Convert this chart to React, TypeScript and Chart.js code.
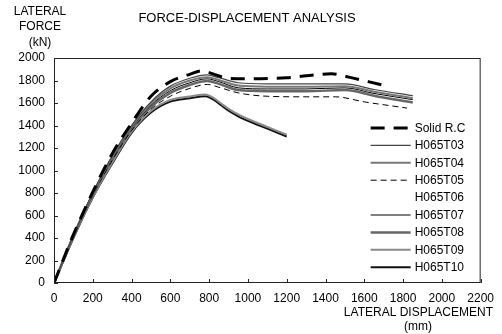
import React, { useEffect, useRef } from "react";
import { Chart, registerables } from "chart.js";

Chart.register(...registerables);

const labels = ["Solid R.C", "H065T03", "H065T04", "H065T05", "H065T06", "H065T07", "H065T08", "H065T09", "H065T10"];

const rcDisp = [0, 100, 200, 300, 400, 500, 600, 700, 760, 800, 900, 1000, 1200, 1350, 1430, 1520, 1620, 1720];
const rcForce = [0, 430, 810, 1150, 1420, 1660, 1790, 1855, 1885, 1870, 1820, 1815, 1825, 1850, 1860, 1830, 1790, 1750];

const groupDisp = [0, 100, 200, 300, 400, 500, 600, 700, 790, 850, 950, 1100, 1300, 1500, 1650, 1850];
const t03Force = [0, 425, 800, 1130, 1400, 1610, 1750, 1820, 1850, 1825, 1780, 1770, 1770, 1770, 1720, 1665];
const t04Force = [0, 422, 795, 1120, 1390, 1595, 1730, 1800, 1830, 1805, 1755, 1745, 1745, 1750, 1700, 1645];
const t06Force = [0, 421, 792, 1115, 1385, 1588, 1720, 1790, 1822, 1798, 1745, 1735, 1735, 1742, 1692, 1638];
const t07Force = [0, 420, 790, 1110, 1380, 1580, 1710, 1780, 1815, 1790, 1735, 1725, 1725, 1735, 1685, 1630];
const t08Force = [0, 418, 785, 1100, 1370, 1565, 1690, 1760, 1795, 1770, 1715, 1705, 1705, 1715, 1665, 1605];

const t05Disp = [0, 100, 200, 300, 400, 500, 600, 700, 790, 850, 950, 1100, 1300, 1450, 1600, 1820];
const t05Force = [0, 415, 780, 1090, 1355, 1545, 1660, 1730, 1765, 1740, 1690, 1660, 1655, 1655, 1610, 1555];

const lowDisp = [0, 100, 200, 300, 400, 500, 600, 700, 780, 820, 860, 900, 950, 1000, 1100, 1200];
const t09Force = [0, 405, 765, 1070, 1345, 1530, 1628, 1658, 1676, 1648, 1598, 1548, 1498, 1458, 1388, 1318];
const t10Force = [0, 400, 760, 1060, 1335, 1515, 1612, 1642, 1660, 1632, 1582, 1532, 1482, 1442, 1372, 1302];

const xTicks = [0, 200, 400, 600, 800, 1000, 1200, 1400, 1600, 1800, 2000, 2200];
const yTicks = [0, 200, 400, 600, 800, 1000, 1200, 1400, 1600, 1800, 2000];

const FONT = "'Liberation Sans', Arial, sans-serif";

function pts(xs: number[], ys: number[]) {
  return xs.map((x, i) => ({ x, y: ys[i] }));
}

const styles = [
  { color: "#000", width: 3, dash: [14, 9] },
  { color: "#444", width: 1.2, dash: [] },
  { color: "#777", width: 2, dash: [] },
  { color: "#000", width: 1, dash: [6, 4] },
  { color: "rgba(0,0,0,0)", width: 1, dash: [] },
  { color: "#000", width: 1, dash: [] },
  { color: "#666", width: 2.5, dash: [] },
  { color: "#8a8a8a", width: 2, dash: [] },
  { color: "#111", width: 2, dash: [] },
];

const seriesData = [
  pts(rcDisp, rcForce),
  pts(groupDisp, t03Force),
  pts(groupDisp, t04Force),
  pts(t05Disp, t05Force),
  pts(groupDisp, t06Force),
  pts(groupDisp, t07Force),
  pts(groupDisp, t08Force),
  pts(lowDisp, t09Force),
  pts(lowDisp, t10Force),
];

const decorPlugin = {
  id: "decor",
  afterDatasetsDraw(chart: any) {
    const ctx = chart.ctx;
    const a = chart.chartArea;
    const xs = chart.scales.x;
    const ys = chart.scales.y;
    ctx.save();
    ctx.strokeStyle = "#222";
    ctx.lineWidth = 1;
    ctx.setLineDash([]);
    ctx.strokeRect(a.left + 0.5, a.top + 0.5, a.right - a.left - 1, a.bottom - a.top - 1);
    ctx.beginPath();
    xTicks.forEach((v) => {
      const px = Math.round(xs.getPixelForValue(v)) + 0.5;
      ctx.moveTo(px, a.bottom);
      ctx.lineTo(px, a.bottom - 4);
    });
    yTicks.forEach((v) => {
      const py = Math.round(ys.getPixelForValue(v)) + 0.5;
      ctx.moveTo(a.left, py);
      ctx.lineTo(a.left + 4, py);
    });
    ctx.stroke();

    ctx.font = "12px " + FONT;
    ctx.textBaseline = "middle";
    ctx.textAlign = "left";
    ctx.fillStyle = "#000";
    chart.data.datasets.forEach((ds: any, i: number) => {
      const y = a.top + 70 + i * 17.4;
      const x0 = a.right - 110;
      ctx.save();
      ctx.strokeStyle = ds.borderColor;
      ctx.lineWidth = ds.borderWidth;
      ctx.setLineDash(ds.borderDash || []);
      ctx.beginPath();
      ctx.moveTo(x0, y);
      ctx.lineTo(x0 + 40, y);
      ctx.stroke();
      ctx.restore();
      ctx.fillText(ds.label, x0 + 44, y + 0.5);
    });

    ctx.textAlign = "center";
    ctx.fillText("LATERAL", 40, 12);
    ctx.fillText("FORCE", 40, 27);
    ctx.fillText("(kN)", 40, 43);
    ctx.textAlign = "right";
    ctx.fillText("LATERAL DISPLACEMENT", 493, 313);
    ctx.textAlign = "center";
    ctx.fillText("(mm)", 418, 327);
    ctx.font = "13px " + FONT;
    ctx.fillText("FORCE-DISPLACEMENT ANALYSIS", 247, 18);
    ctx.restore();
  },
};

export default function App() {
  const ref = useRef<HTMLCanvasElement | null>(null);
  useEffect(() => {
    if (!ref.current) return;
    const chart = new Chart(ref.current, {
      type: "line",
      data: {
        datasets: labels.map((label, i) => ({
          label,
          data: seriesData[i],
          borderColor: styles[i].color,
          borderWidth: styles[i].width,
          borderDash: styles[i].dash,
          pointRadius: 0,
          fill: false,
          cubicInterpolationMode: "monotone" as const,
        })),
      },
      options: {
        animation: false,
        responsive: true,
        maintainAspectRatio: false,
        layout: { padding: { left: 0, top: 58, right: 20, bottom: 0 } },
        plugins: {
          legend: { display: false },
          title: { display: false },
          tooltip: { enabled: false },
        },
        scales: {
          x: {
            type: "linear",
            min: 0,
            max: 2200,
            grid: { display: false, drawTicks: false },
            border: { display: false },
            ticks: {
              stepSize: 200,
              color: "#000",
              padding: 8,
              maxRotation: 0,
              autoSkip: false,
              font: { family: FONT, size: 12 },
              callback: (v: any) => String(v),
            },
            afterFit: (s: any) => {
              s.height = 51;
            },
          },
          y: {
            type: "linear",
            min: 0,
            max: 2000,
            grid: { display: false, drawTicks: false },
            border: { display: false },
            ticks: {
              stepSize: 200,
              color: "#000",
              padding: 9,
              autoSkip: false,
              font: { family: FONT, size: 12 },
              callback: (v: any) => String(v),
            },
            afterFit: (s: any) => {
              s.width = 54;
            },
          },
        },
      },
      plugins: [decorPlugin],
    });
    return () => chart.destroy();
  }, []);
  return (
    <div style={{ position: "absolute", left: 0, top: 0, width: 502, height: 334, background: "#fff" }}>
      <canvas ref={ref} />
    </div>
  );
}
